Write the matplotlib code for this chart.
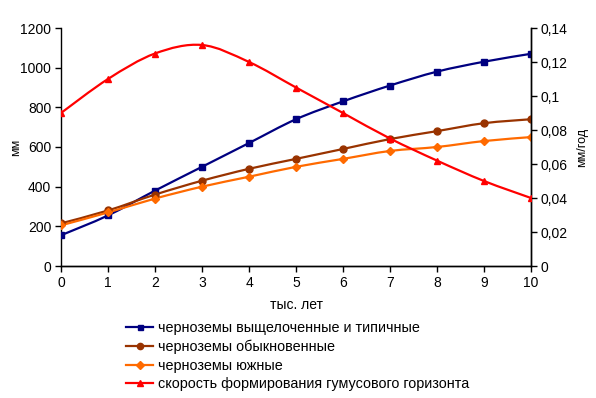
import matplotlib
matplotlib.use("Agg")
import numpy as np
import matplotlib.pyplot as plt
from matplotlib.path import Path
from matplotlib.patches import PathPatch
from matplotlib.lines import Line2D

plt.rcParams['font.family'] = ['Liberation Sans', 'DejaVu Sans']

# Data
years = [0, 1, 2, 3, 4, 5, 6, 7, 8, 9, 10]
leached = [155, 255, 380, 500, 620, 740, 830, 910, 980, 1030, 1070]
ordinary = [215, 280, 360, 430, 490, 540, 590, 640, 680, 720, 740]
southern = [205, 270, 340, 400, 450, 500, 540, 580, 600, 630, 650]
rate = [0.09, 0.11, 0.125, 0.13, 0.12, 0.105, 0.09, 0.075, 0.062, 0.05, 0.04]

labels = ['черноземы выщелоченные и типичные',
          'черноземы обыкновенные',
          'черноземы южные',
          'скорость формирования гумусового горизонта']
colors = ['#000080', '#993300', '#ff6a00', '#ff0000']
markers = ['s', 'o', 'D', '^']
msizes = [4.0, 5.0, 4.5, 5.0]

left_ticks = [0, 200, 400, 600, 800, 1000, 1200]
right_ticks = [0, 0.02, 0.04, 0.06, 0.08, 0.10, 0.12, 0.14]
right_labels = ['0', '0,02', '0,04', '0,06', '0,08', '0,1', '0,12', '0,14']


def smooth_path(x, y):
    # Excel-like smoothed line as cubic Bezier segments
    x = np.asarray(x, float)
    y = np.asarray(y, float)
    pts = np.column_stack([x, y])
    n = len(pts)
    verts = [pts[0]]
    codes = [Path.MOVETO]
    for i in range(n - 1):
        p0 = pts[i - 1] if i > 0 else pts[i]
        p1 = pts[i]
        p2 = pts[i + 1]
        p3 = pts[i + 2] if i + 2 < n else pts[i + 1]
        c1 = p1 + (p2 - p0) / 6.0
        c2 = p2 - (p3 - p1) / 6.0
        verts += [c1, c2, p2]
        codes += [Path.CURVE4] * 3
    return Path(verts, codes)


def draw_series(ax, x, y, color, marker, ms):
    patch = PathPatch(smooth_path(x, y), facecolor='none', edgecolor=color,
                      linewidth=1.6, zorder=3)
    ax.add_patch(patch)
    ax.plot(x, y, linestyle='none', marker=marker, color=color,
            markersize=ms, zorder=4)


fig = plt.figure(figsize=(5.96, 3.98), dpi=100)
ax = fig.add_axes([61 / 596, 1 - 266 / 398, 470 / 596, 238 / 398])
ax2 = ax.twinx()

for ys, c, m, ms in zip([leached, ordinary, southern], colors[:3], markers[:3], msizes[:3]):
    draw_series(ax, years, ys, c, m, ms)
draw_series(ax2, years, rate, colors[3], markers[3], msizes[3])

ax.set_xlim(0, 10)
ax.set_ylim(0, 1200)
ax2.set_ylim(0, 0.14)
ax.set_xticks(years)
ax.set_yticks(left_ticks)
ax2.set_yticks(right_ticks)
ax2.set_yticklabels(right_labels)

for a in (ax, ax2):
    a.spines['top'].set_visible(False)
    a.tick_params(labelsize=10, length=4, width=1, direction='out', pad=3)
    for s in a.spines.values():
        s.set_linewidth(1)
ax2.spines['left'].set_visible(False)

ax.set_ylabel('мм', fontsize=9, labelpad=-1)
ax2.set_ylabel('мм/год', fontsize=9, labelpad=6)
ax.set_xlabel('тыс. лет', fontsize=10, labelpad=6)

handles = [Line2D([], [], color=c, marker=m, markersize=ms * 0.9, linewidth=1.6)
           for c, m, ms in zip(colors, markers, msizes)]
fig.legend(handles, labels, loc='upper left', bbox_to_anchor=(126 / 596, 1 - 321 / 398),
           frameon=False, fontsize=10.4, handlelength=1.9, handletextpad=0.3,
           labelspacing=0.32, borderaxespad=0, borderpad=0)

fig.savefig('out.png', dpi=100)
